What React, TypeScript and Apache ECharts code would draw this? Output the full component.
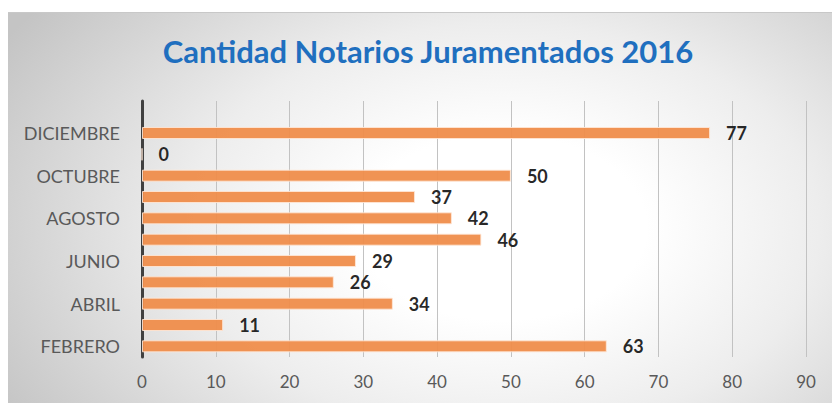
import React, { useEffect, useRef } from "react";
import * as echarts from "echarts";

const categories = [
  "FEBRERO",
  "MARZO",
  "ABRIL",
  "MAYO",
  "JUNIO",
  "JULIO",
  "AGOSTO",
  "SEPTIEMBRE",
  "OCTUBRE",
  "NOVIEMBRE",
  "DICIEMBRE",
  "",
];
const values: (number | null)[] = [63, 11, 34, 26, 29, 46, 42, 37, 50, 0, 77, null];
const titleText = "Cantidad Notarios Juramentados 2016";
const xMin = 0;
const xMax = 90;
const xStep = 10;

export default function App() {
  const ref = useRef<HTMLDivElement>(null);
  useEffect(() => {
    if (!ref.current) return;
    const chart = echarts.init(ref.current, null, { renderer: "svg" });
    chart.setOption({
      animation: false,
      title: {
        text: titleText,
        left: 415,
        textAlign: "center",
        top: 17,
        textStyle: {
          fontFamily: "Lato",
          fontWeight: "bold",
          fontSize: 31,
          color: "#1F6FBF",
        },
      },
      grid: { left: 134, right: 26, top: 88, bottom: 46, containLabel: false },
      xAxis: {
        type: "value",
        min: xMin,
        max: xMax,
        interval: xStep,
        axisLine: { show: false },
        axisTick: { show: false },
        splitLine: { show: true, lineStyle: { color: "#c2c2c2", width: 1 } },
        axisLabel: {
          margin: 16,
          fontFamily: "Lato",
          fontSize: 17,
          color: "#595959",
        },
      },
      yAxis: {
        type: "category",
        data: categories,
        axisLine: { show: true, lineStyle: { color: "#404040", width: 3 } },
        axisTick: { show: false },
        axisLabel: {
          interval: 1,
          margin: 22,
          fontFamily: "Lato",
          fontSize: 18,
          color: "#595959",
        },
      },
      series: [
        {
          type: "bar",
          data: values,
          barWidth: 12,
          itemStyle: {
            color: "#EF8D4B",
            borderColor: "rgba(255,232,215,0.9)",
            borderWidth: 1,
            opacity: 0.95,
          },
          label: {
            show: true,
            position: "right",
            distance: 16,
            fontFamily: "Lato",
            fontWeight: "bold",
            fontSize: 18,
            color: "#1a1a1a",
          },
        },
      ],
    });
    return () => chart.dispose();
  }, []);
  return (
    <div
      ref={ref}
      style={{
        position: "absolute",
        left: 8,
        top: 12,
        width: 824,
        height: 391,
        borderTop: "1px solid #c8c8c8",
        boxSizing: "border-box",
        background:
          "radial-gradient(ellipse 70% 95% at 60% 55%, #ffffff 25%, #ededed 55%, #c4c4c4 100%)",
      }}
    />
  );
}
